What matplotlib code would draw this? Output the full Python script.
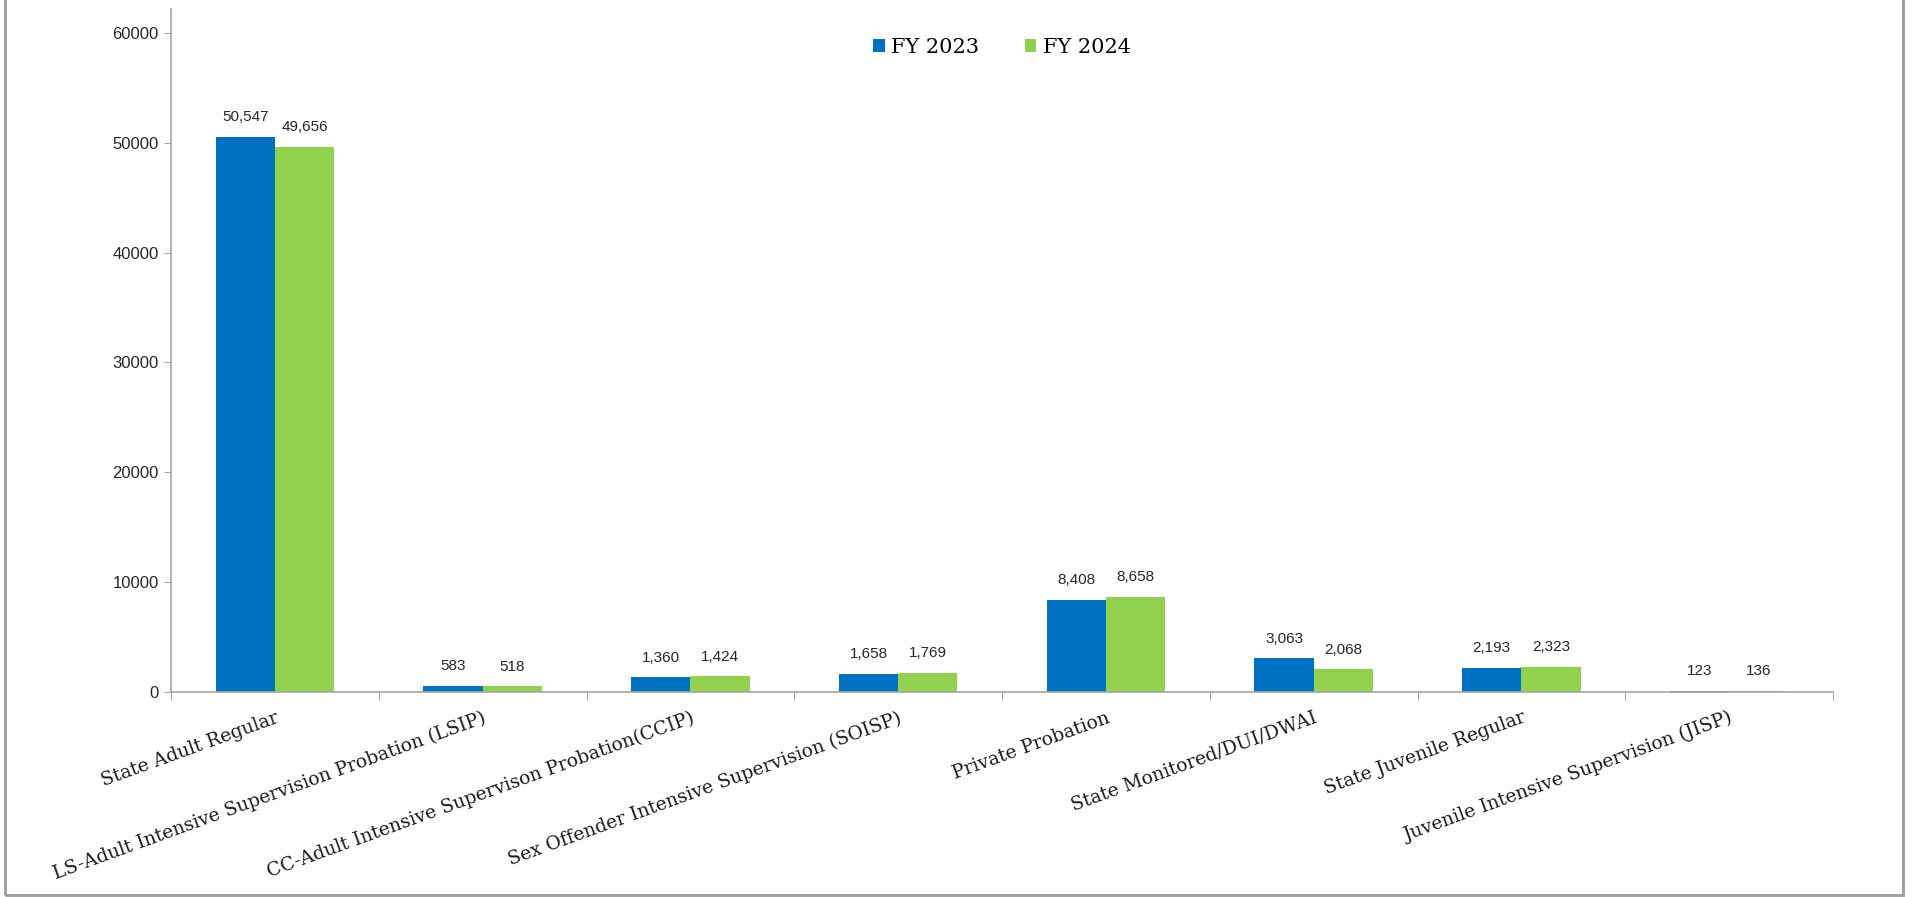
import matplotlib.pyplot as plt
import matplotlib.patches as mpatches
import numpy as np

# probation caseload by supervision type
categories = [
    "State Adult Regular",
    "LS-Adult Intensive Supervision Probation (LSIP)",
    "CC-Adult Intensive Supervison Probation(CCIP)",
    "Sex Offender Intensive Supervision (SOISP)",
    "Private Probation",
    "State Monitored/DUI/DWAI",
    "State Juvenile Regular",
    "Juvenile Intensive Supervision (JISP)",
]
fy2023 = [50547, 583, 1360, 1658, 8408, 3063, 2193, 123]
fy2024 = [49656, 518, 1424, 1769, 8658, 2068, 2323, 136]
series_names = ["FY 2023", "FY 2024"]
yticks = [0, 10000, 20000, 30000, 40000, 50000, 60000]

blue = "#0070C0"
green = "#92D050"
axis_gray = "#A6A6A6"
label_font = "DejaVu Serif"
num_font = "Liberation Sans"

fig = plt.figure(figsize=(19.13, 8.97), dpi=100)
ax = fig.add_axes([0.0894, 0.2285, 0.9582 - 0.0894, 0.9643 - 0.2285 + 0.026])

x = np.arange(len(categories))
w = 0.285
b1 = ax.bar(x - w / 2, fy2023, w, color=blue, label=series_names[0])
b2 = ax.bar(x + w / 2, fy2024, w, color=green, label=series_names[1])

for bars, vals in ((b1, fy2023), (b2, fy2024)):
    for r, v in zip(bars, vals):
        ax.annotate(f"{v:,}", (r.get_x() + r.get_width() / 2, v),
                    xytext=(0, 9), textcoords="offset points",
                    ha="center", va="bottom", fontsize=11,
                    family=num_font, color="#262626")

ax.set_xlim(-0.5, len(categories) - 0.5)
ax.set_ylim(0, 62200)
ax.set_yticks(yticks)
ax.set_yticklabels([str(t) for t in yticks], family=num_font, fontsize=12,
                   color="#262626")

# ticks at category boundaries, labels at centres
ax.set_xticks(np.arange(len(categories) + 1) - 0.5)
ax.set_xticklabels([])
ax.set_xticks(x, minor=True)
ax.set_xticklabels(categories, minor=True, rotation=20, ha="right",
                   va="top", rotation_mode="anchor", family=label_font,
                   fontsize=13.5, color="#1a1a1a")
ax.tick_params(axis="x", which="minor", length=0, pad=12)
ax.tick_params(axis="x", which="major", length=6, color=axis_gray)
ax.tick_params(axis="y", length=5, color=axis_gray, pad=4)

for s in ("top", "right"):
    ax.spines[s].set_visible(False)
for s in ("left", "bottom"):
    ax.spines[s].set_color(axis_gray)
    ax.spines[s].set_linewidth(1.2)

leg = ax.legend(loc="upper center", bbox_to_anchor=(0.50, 0.985), ncol=2,
                frameon=False, handlelength=0.55, handleheight=0.55,
                handletextpad=0.3, columnspacing=2.2,
                prop={"family": label_font, "size": 15})

# outer frame of the picture
fig.patches.append(mpatches.Rectangle((5 / 1913, 2 / 897), 1898 / 1913, 1.0,
                                      transform=fig.transFigure, fill=False,
                                      edgecolor="#9a9a9a", linewidth=2))

fig.savefig("out.png", dpi=100)
